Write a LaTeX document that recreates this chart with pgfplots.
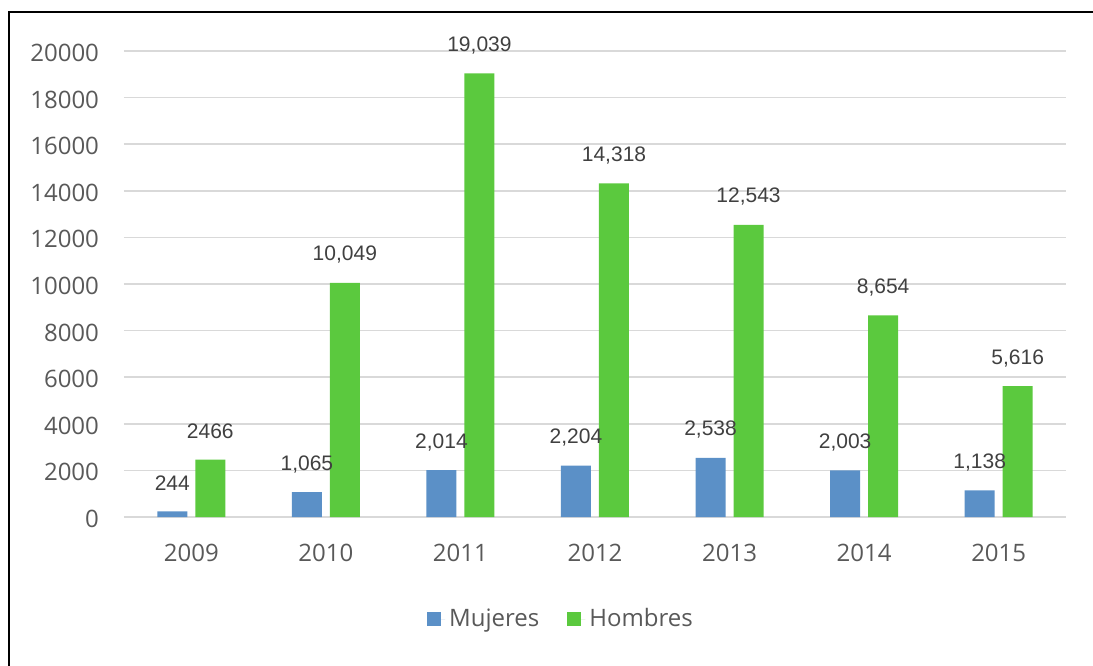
\documentclass[border=0pt]{standalone}
\usepackage{pgfplots}
\pgfplotsset{compat=1.18}
\usepackage{fontspec}
\setmainfont{Open Sans}
\newfontfamily\labfont{Liberation Sans}

\definecolor{mujeres}{RGB}{91,144,199}
\definecolor{hombres}{RGB}{91,201,62}
\definecolor{gridgray}{RGB}{217,217,217}
\definecolor{ticktext}{RGB}{89,89,89}
\definecolor{labtext}{RGB}{64,64,64}

\begin{document}
\begin{tikzpicture}
\path[use as bounding box] (-62pt,-74pt) rectangle (484.5pt,258.5pt);
\draw[line width=1pt,black] (-57.5pt,-90pt) -- (-57.5pt,252.5pt) -- (500pt,252.5pt);
\begin{axis}[
  at={(0pt,0pt)}, anchor=south west,
  width=471pt, height=233pt, scale only axis,
  xmin=-0.5, xmax=6.5, ymin=0, ymax=20000,
  axis line style={draw=none},
  ybar, bar width=15pt,
  xtick={0,1,2,3,4,5,6},
  xticklabels={2009,2010,2011,2012,2013,2014,2015},
  ytick={0,2000,...,20000},
  scaled y ticks=false,
  ymajorgrids, grid style={gridgray, line width=0.8pt},
  major tick length=0pt,
  /pgf/number format/assume math mode=true,
  /pgf/number format/1000 sep={},
  tick label style={font=\fontsize{12}{14}\selectfont, text=ticktext},
  xticklabel style={yshift=-10pt},
  yticklabel style={xshift=-9pt, yshift=-1pt},
  point meta=explicit symbolic,
  nodes near coords={\pgfplotspointmeta},
  every node near coord/.append style={font=\labfont\fontsize{10.5}{12}\selectfont, text=labtext, anchor=center, yshift=14pt},
  legend style={at={(0.465,-0.219)}, anchor=center, draw=none, fill=none,
    legend columns=-1, font=\fontsize{12}{14}\selectfont, text=ticktext,
    /tikz/every even column/.append style={column sep=12pt}},
  legend image code/.code={\fill[#1,draw=none] (0pt,-3.5pt) rectangle (7pt,3.5pt);\path (0pt,0pt) -- (9pt,0pt);},
]
\addplot[fill=mujeres, draw=none, bar shift=-9.5pt] coordinates {
  (0,244) [244]
  (1,1065) [1,065]
  (2,2014) [2,014]
  (3,2204) [2,204]
  (4,2538) [2,538]
  (5,2003) [2,003]
  (6,1138) [1,138]
};
\addlegendentry{Mujeres}
\addplot[fill=hombres, draw=none, bar shift=9.5pt] coordinates {
  (0,2466) [2466]
  (1,10049) [10,049]
  (2,19039) [19,039]
  (3,14318) [14,318]
  (4,12543) [12,543]
  (5,8654) [8,654]
  (6,5616) [5,616]
};
\addlegendentry{Hombres}
\end{axis}
\end{tikzpicture}
\end{document}
